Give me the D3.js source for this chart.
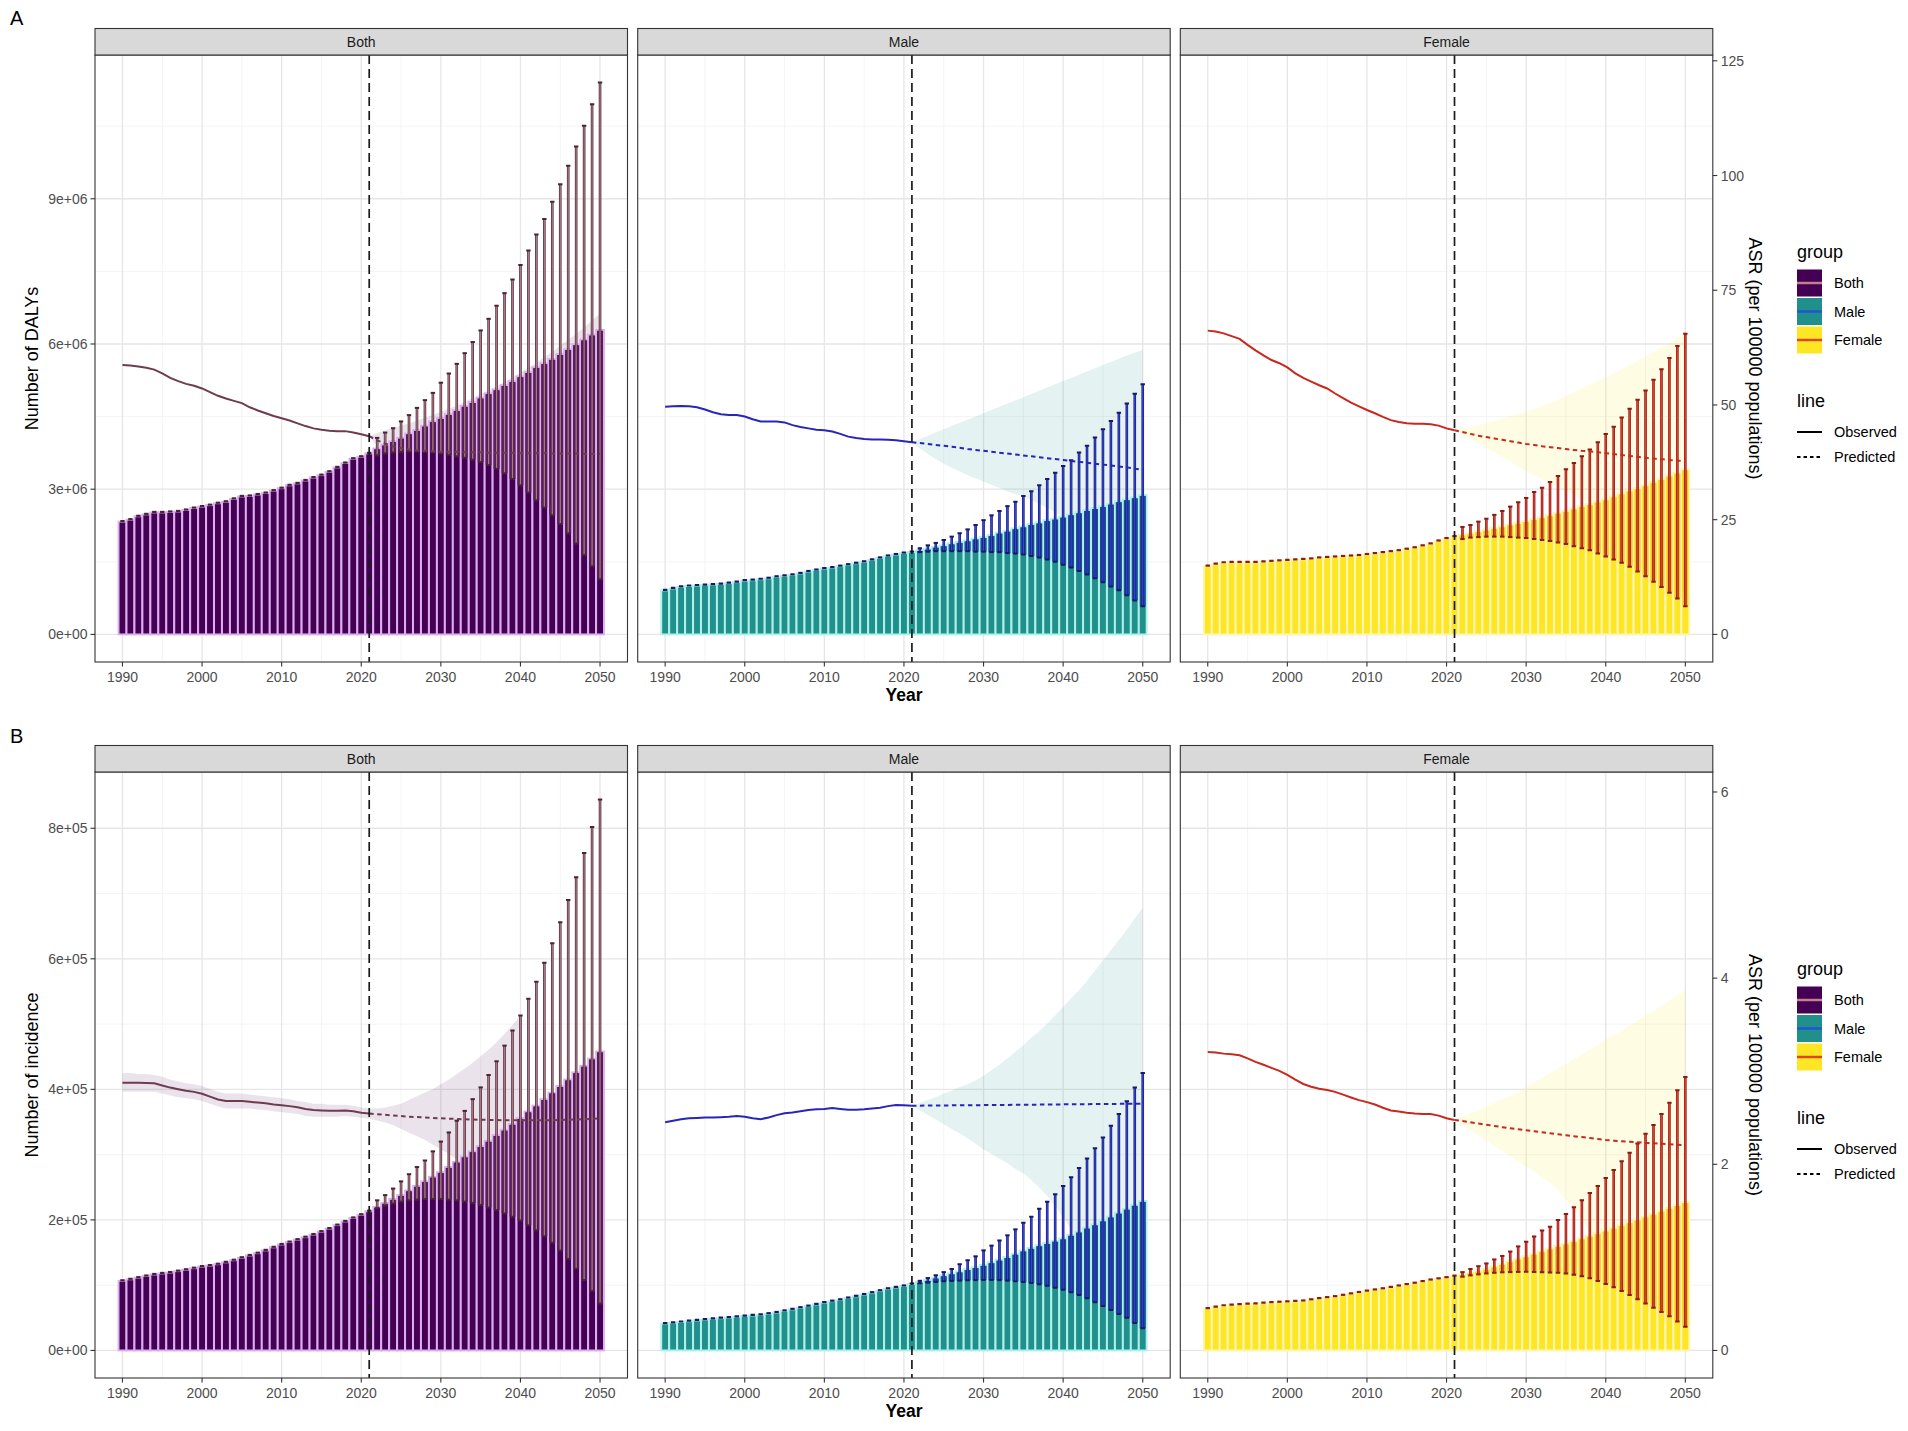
<!DOCTYPE html>
<html><head><meta charset="utf-8">
<script src="https://cdn.jsdelivr.net/npm/d3@7/dist/d3.min.js"></script>
<style>
body{margin:0;background:#fff;}
svg{display:block;font-family:"Liberation Sans",Arial,Helvetica,sans-serif;}
</style>
</head><body>
<svg id="chart" width="1908" height="1431"></svg>
<script>
// ---------------- DATA ----------------
const years = [1990,1991,1992,1993,1994,1995,1996,1997,1998,1999,2000,2001,2002,2003,2004,2005,2006,2007,2008,2009,2010,2011,2012,2013,2014,2015,2016,2017,2018,2019,2020,2021,2022,2023,2024,2025,2026,2027,2028,2029,2030,2031,2032,2033,2034,2035,2036,2037,2038,2039,2040,2041,2042,2043,2044,2045,2046,2047,2048,2049,2050];
const predYears = [2022,2023,2024,2025,2026,2027,2028,2029,2030,2031,2032,2033,2034,2035,2036,2037,2038,2039,2040,2041,2042,2043,2044,2045,2046,2047,2048,2049,2050];
const ribbonYears = [2021,2022,2023,2024,2025,2026,2027,2028,2029,2030,2031,2032,2033,2034,2035,2036,2037,2038,2039,2040,2041,2042,2043,2044,2045,2046,2047,2048,2049,2050];
const ribbonYearsIncBoth = [1990,1991,1992,1993,1994,1995,1996,1997,1998,1999,2000,2001,2002,2003,2004,2005,2006,2007,2008,2009,2010,2011,2012,2013,2014,2015,2016,2017,2018,2019,2020,2021,2022,2023,2024,2025,2026,2027,2028,2029,2030,2031,2032,2033,2034,2035,2036,2037,2038,2039,2040];
const splitYear = 2021;

// Panel A: DALYs (millions), ASR per 100000
const dalyBoth = [2.33,2.37,2.44,2.48,2.52,2.52,2.53,2.54,2.57,2.61,2.64,2.67,2.71,2.74,2.80,2.85,2.86,2.89,2.92,2.97,3.02,3.08,3.12,3.18,3.24,3.29,3.36,3.45,3.54,3.63,3.67,3.74,3.84,3.92,3.99,4.06,4.15,4.22,4.31,4.40,4.47,4.55,4.63,4.72,4.80,4.89,4.98,5.06,5.15,5.23,5.33,5.42,5.52,5.60,5.69,5.79,5.89,5.99,6.09,6.19,6.29];
const dalyBothHi = [4.06,4.17,4.26,4.40,4.53,4.68,4.84,4.99,5.20,5.39,5.59,5.81,6.04,6.28,6.52,6.79,7.05,7.33,7.63,7.93,8.26,8.58,8.94,9.30,9.68,10.08,10.51,10.95,11.40];
const dalyBothLo = [3.70,3.74,3.76,3.77,3.78,3.78,3.77,3.76,3.74,3.71,3.68,3.65,3.61,3.56,3.50,3.42,3.33,3.21,3.08,2.93,2.77,2.62,2.46,2.28,2.09,1.88,1.64,1.41,1.14];
const asrDalyBoth = [58.7,58.6,58.4,58.1,57.7,56.9,55.9,55.2,54.6,54.2,53.6,52.8,52.0,51.4,50.9,50.4,49.5,48.8,48.2,47.6,47.1,46.6,46.0,45.4,44.9,44.6,44.4,44.3,44.3,44.0,43.6,43.2,42.3,41.6,41.0,40.6,40.3,40.1,40.0,39.9,39.8,39.8,39.8,39.7,39.7,39.7,39.6,39.6,39.6,39.6,39.5,39.5,39.5,39.5,39.4,39.4,39.4,39.4,39.3,39.3,39.3];
const asrDalyBothHi = [43.2,43.9,44.5,45.0,45.5,46.0,46.6,47.2,47.8,48.5,49.2,49.9,50.7,51.5,52.4,53.2,54.1,55.0,56.0,57.0,58.1,59.2,60.4,61.6,62.9,64.2,65.5,66.9,68.4,70.0];
const asrDalyBothLo = [43.2,41.0,39.6,38.4,37.4,36.6,35.8,35.0,34.2,33.4,32.6,31.8,31.0,30.1,29.2,28.3,27.3,26.3,25.2,24.1,23.0,21.8,20.6,19.4,18.1,16.8,15.5,14.1,12.7,11.3];

const dalyMale = [0.91,0.95,0.98,1.00,1.01,1.02,1.03,1.04,1.06,1.08,1.11,1.12,1.14,1.16,1.19,1.21,1.23,1.26,1.30,1.33,1.36,1.38,1.41,1.44,1.47,1.50,1.54,1.58,1.62,1.65,1.68,1.70,1.74,1.77,1.81,1.84,1.88,1.91,1.94,1.98,2.01,2.05,2.10,2.14,2.19,2.23,2.28,2.31,2.36,2.39,2.43,2.48,2.52,2.57,2.61,2.65,2.70,2.75,2.79,2.83,2.88];
const dalyMaleHi = [1.78,1.84,1.89,1.95,2.02,2.09,2.17,2.26,2.36,2.46,2.55,2.65,2.74,2.86,2.96,3.08,3.21,3.34,3.48,3.60,3.76,3.90,4.07,4.24,4.41,4.58,4.77,4.97,5.17];
const dalyMaleLo = [1.70,1.71,1.72,1.72,1.72,1.72,1.72,1.71,1.71,1.70,1.70,1.68,1.67,1.65,1.62,1.59,1.55,1.50,1.44,1.38,1.31,1.24,1.16,1.08,0.99,0.91,0.81,0.70,0.58];
const asrDalyMale = [49.6,49.7,49.8,49.7,49.5,49.0,48.4,48.0,47.8,47.8,47.5,46.9,46.4,46.4,46.4,46.2,45.6,45.2,44.9,44.6,44.5,44.2,43.7,43.1,42.8,42.6,42.5,42.5,42.4,42.3,42.1,41.9,41.7,41.5,41.3,41.1,40.9,40.7,40.4,40.2,40.0,39.8,39.6,39.4,39.2,39.0,38.8,38.6,38.4,38.2,38.0,37.8,37.6,37.4,37.2,37.0,36.8,36.6,36.4,36.1,35.9];
const asrDalyMaleHi = [41.9,42.6,43.3,44.0,44.7,45.4,46.1,46.8,47.5,48.2,48.9,49.6,50.3,51.0,51.7,52.4,53.1,53.8,54.5,55.2,55.9,56.6,57.3,58.0,58.7,59.4,60.1,60.8,61.4,62.0];
const asrDalyMaleLo = [41.9,40.5,39.3,38.2,37.2,36.3,35.5,34.7,34.0,33.3,32.6,31.9,31.2,30.6,30.0,29.3,28.5,27.6,26.6,25.5,24.3,23.0,21.7,20.3,18.9,17.5,16.1,14.7,13.3,12.0];

const dalyFemale = [1.41,1.45,1.48,1.49,1.49,1.49,1.49,1.50,1.51,1.52,1.53,1.54,1.55,1.56,1.58,1.59,1.60,1.61,1.62,1.63,1.65,1.67,1.69,1.71,1.73,1.76,1.79,1.83,1.87,1.93,1.98,2.02,2.06,2.09,2.13,2.16,2.20,2.23,2.27,2.30,2.34,2.38,2.42,2.46,2.51,2.55,2.60,2.65,2.69,2.74,2.79,2.85,2.91,2.97,3.02,3.08,3.15,3.21,3.28,3.34,3.41];
const dalyFemaleHi = [2.22,2.26,2.33,2.39,2.47,2.55,2.64,2.73,2.82,2.94,3.03,3.15,3.27,3.41,3.54,3.68,3.82,3.97,4.14,4.29,4.48,4.66,4.85,5.04,5.26,5.48,5.71,5.96,6.21];
const dalyFemaleLo = [1.97,2.00,2.01,2.02,2.02,2.02,2.01,2.00,1.99,1.97,1.95,1.93,1.90,1.87,1.82,1.78,1.74,1.67,1.61,1.55,1.48,1.40,1.30,1.20,1.09,0.98,0.86,0.74,0.58];
const asrDalyFemale = [66.2,66.0,65.6,65.0,64.4,63.1,61.9,60.8,59.8,59.1,58.2,56.9,55.9,55.1,54.3,53.6,52.5,51.5,50.5,49.7,48.9,48.2,47.4,46.7,46.3,46.0,45.9,45.9,45.8,45.5,44.9,44.5,44.1,43.7,43.3,43.0,42.7,42.4,42.1,41.8,41.5,41.3,41.0,40.8,40.6,40.4,40.2,40.0,39.9,39.7,39.5,39.3,39.1,38.9,38.7,38.5,38.3,38.2,38.0,37.9,37.7];
const asrDalyFemaleHi = [44.5,44.8,45.2,45.6,46.0,46.5,47.0,47.5,48.0,48.5,49.1,49.8,50.5,51.2,52.0,52.8,53.6,54.4,55.2,56.0,56.9,57.8,58.7,59.6,60.5,61.5,62.5,63.5,64.5,65.5];
const asrDalyFemaleLo = [44.5,43.6,42.6,41.6,40.6,39.6,38.6,37.6,36.6,35.6,34.7,33.8,32.9,32.1,31.3,30.4,29.5,28.5,27.5,26.5,25.4,24.3,23.2,22.1,21.0,19.9,18.8,17.7,16.6,15.5];

// Panel B: incidence (units of 1e5), ASR per 100000
const incBoth = [1.067,1.09,1.115,1.14,1.164,1.18,1.194,1.215,1.236,1.26,1.285,1.30,1.321,1.35,1.382,1.42,1.455,1.49,1.533,1.58,1.624,1.66,1.697,1.735,1.776,1.82,1.867,1.92,1.976,2.03,2.079,2.133,2.20,2.26,2.32,2.38,2.45,2.52,2.59,2.66,2.73,2.81,2.89,2.97,3.05,3.13,3.21,3.30,3.38,3.47,3.56,3.66,3.75,3.85,3.95,4.05,4.15,4.26,4.36,4.47,4.58];
const incBothHi = [2.30,2.38,2.48,2.59,2.70,2.81,2.91,3.05,3.20,3.34,3.52,3.67,3.85,4.03,4.22,4.43,4.67,4.90,5.13,5.39,5.65,5.94,6.24,6.56,6.90,7.25,7.62,8.02,8.44];
const incBothLo = [2.18,2.22,2.25,2.28,2.30,2.31,2.32,2.32,2.32,2.31,2.30,2.28,2.26,2.23,2.19,2.15,2.10,2.05,1.99,1.92,1.84,1.75,1.65,1.53,1.40,1.25,1.08,0.91,0.72];
const asrIncBoth = [2.875,2.875,2.875,2.873,2.871,2.846,2.824,2.807,2.79,2.778,2.757,2.727,2.697,2.68,2.68,2.68,2.672,2.663,2.655,2.642,2.634,2.625,2.612,2.595,2.583,2.578,2.574,2.574,2.578,2.57,2.553,2.545,2.538,2.531,2.524,2.518,2.512,2.507,2.502,2.498,2.494,2.490,2.487,2.484,2.481,2.479,2.477,2.475,2.474,2.473,2.472,2.472,2.472,2.473,2.474,2.476,2.478,2.481,2.484,2.488,2.492];
const asrIncBothHi = [2.98,2.98,2.97,2.97,2.96,2.94,2.91,2.89,2.87,2.86,2.84,2.81,2.78,2.76,2.76,2.76,2.75,2.74,2.73,2.72,2.71,2.70,2.68,2.67,2.65,2.65,2.64,2.64,2.64,2.63,2.61,2.60,2.60,2.61,2.63,2.65,2.69,2.73,2.77,2.81,2.86,2.91,2.97,3.03,3.09,3.16,3.23,3.31,3.40,3.50,3.60];
const asrIncBothLo = [2.78,2.78,2.78,2.78,2.78,2.76,2.74,2.72,2.71,2.70,2.68,2.65,2.62,2.60,2.60,2.60,2.60,2.59,2.58,2.57,2.56,2.55,2.54,2.52,2.51,2.51,2.51,2.51,2.52,2.51,2.50,2.49,2.47,2.45,2.42,2.38,2.34,2.30,2.26,2.21,2.16,2.11,2.05,1.99,1.93,1.86,1.79,1.71,1.63,1.54,1.45];

const incMale = [0.412,0.424,0.436,0.448,0.461,0.473,0.485,0.494,0.503,0.515,0.527,0.536,0.545,0.563,0.582,0.606,0.630,0.655,0.679,0.706,0.733,0.755,0.776,0.803,0.830,0.857,0.885,0.915,0.945,0.966,0.988,1.018,1.05,1.08,1.115,1.15,1.18,1.21,1.245,1.275,1.31,1.35,1.39,1.43,1.48,1.53,1.57,1.61,1.645,1.68,1.715,1.77,1.82,1.88,1.93,1.99,2.05,2.11,2.17,2.23,2.29];
const incMaleHi = [1.067,1.109,1.152,1.20,1.248,1.321,1.382,1.442,1.533,1.606,1.685,1.764,1.855,1.958,2.048,2.17,2.279,2.394,2.521,2.655,2.794,2.939,3.097,3.261,3.442,3.624,3.818,4.03,4.249];
const incMaleLo = [1.03,1.04,1.05,1.06,1.065,1.07,1.075,1.078,1.08,1.08,1.078,1.07,1.06,1.05,1.035,1.015,0.99,0.96,0.93,0.89,0.85,0.80,0.74,0.68,0.62,0.56,0.50,0.42,0.34];
const asrIncMale = [2.451,2.468,2.485,2.494,2.498,2.502,2.502,2.506,2.511,2.519,2.511,2.494,2.485,2.502,2.528,2.549,2.557,2.57,2.583,2.591,2.595,2.604,2.595,2.587,2.587,2.591,2.6,2.608,2.625,2.638,2.634,2.629,2.630,2.631,2.632,2.632,2.633,2.634,2.635,2.635,2.636,2.637,2.638,2.638,2.639,2.640,2.641,2.641,2.642,2.643,2.644,2.644,2.645,2.646,2.647,2.647,2.648,2.649,2.650,2.650,2.651];
const asrIncMaleHi = [2.63,2.66,2.69,2.72,2.76,2.79,2.83,2.86,2.90,2.95,3.01,3.07,3.14,3.21,3.28,3.36,3.43,3.51,3.60,3.69,3.78,3.87,3.97,4.08,4.19,4.30,4.41,4.52,4.64,4.76];
const asrIncMaleLo = [2.63,2.58,2.53,2.48,2.43,2.38,2.33,2.28,2.22,2.16,2.11,2.06,2.01,1.95,1.90,1.83,1.75,1.66,1.55,1.43,1.30,1.17,1.04,0.92,0.80,0.69,0.58,0.48,0.39,0.30];

const incFemale = [0.642,0.665,0.685,0.695,0.703,0.709,0.715,0.724,0.733,0.739,0.745,0.752,0.758,0.776,0.794,0.809,0.824,0.845,0.867,0.888,0.909,0.927,0.945,0.966,0.988,1.009,1.03,1.055,1.079,1.097,1.115,1.139,1.166,1.193,1.22,1.248,1.287,1.326,1.365,1.404,1.442,1.48,1.52,1.56,1.60,1.636,1.676,1.716,1.756,1.796,1.836,1.878,1.92,1.962,2.005,2.048,2.093,2.138,2.183,2.228,2.273];
const incFemaleHi = [1.2,1.248,1.291,1.333,1.394,1.448,1.515,1.594,1.667,1.745,1.836,1.897,2.0,2.091,2.194,2.303,2.412,2.521,2.642,2.764,2.897,3.03,3.17,3.321,3.455,3.624,3.794,3.988,4.188];
const incFemaleLo = [1.13,1.15,1.165,1.18,1.19,1.197,1.20,1.203,1.205,1.203,1.20,1.195,1.19,1.18,1.16,1.135,1.105,1.065,1.02,0.97,0.91,0.85,0.785,0.72,0.655,0.59,0.525,0.445,0.365];
const asrIncFemale = [3.206,3.202,3.189,3.181,3.172,3.138,3.10,3.07,3.036,3.003,2.96,2.909,2.863,2.833,2.812,2.799,2.778,2.748,2.718,2.689,2.668,2.642,2.608,2.578,2.566,2.553,2.545,2.54,2.54,2.523,2.494,2.477,2.464,2.451,2.438,2.425,2.412,2.399,2.387,2.376,2.366,2.355,2.344,2.333,2.322,2.312,2.302,2.292,2.282,2.271,2.26,2.254,2.248,2.242,2.236,2.23,2.225,2.22,2.215,2.21,2.205];
const asrIncFemaleHi = [2.48,2.51,2.55,2.58,2.62,2.66,2.70,2.74,2.78,2.83,2.88,2.93,2.98,3.03,3.08,3.13,3.18,3.23,3.28,3.34,3.39,3.44,3.49,3.54,3.60,3.65,3.70,3.76,3.81,3.87];
const asrIncFemaleLo = [2.48,2.42,2.36,2.31,2.25,2.20,2.14,2.09,2.03,1.98,1.92,1.86,1.80,1.72,1.62,1.51,1.40,1.29,1.18,1.07,0.96,0.86,0.77,0.68,0.60,0.53,0.46,0.40,0.35,0.30];

// Ticks
const xTicks = [1990,2000,2010,2020,2030,2040,2050];
const xMinorTicks = [1995,2005,2015,2025,2035,2045];
const dalyTicks = [0,3,6,9];
const dalyTickLabels = ["0e+00","3e+06","6e+06","9e+06"];
const dalyMinorTicks = [1.5,4.5,7.5,10.5];
const incTicks = [0,2,4,6,8];
const incTickLabels = ["0e+00","2e+05","4e+05","6e+05","8e+05"];
const incMinorTicks = [1,3,5,7];
const asrTicksA = [0,25,50,75,100,125];
const asrTicksB = [0,2,4,6];
const groups = ["Both","Male","Female"];
const lineTypes = ["Observed","Predicted"];

// ---------------- STYLE / LAYOUT ----------------
const fills = ["#440154","#21908C","#FDE725"];
const gapColors = ["#dcaef0","#aef0ea","#fff5b0"];
const tintColors = ["#5a1d63","#1d4c9c","#f4c71f"];
const lineColors = ["#6e3b50","#2626bb","#c8281e"];
const errColors = ["#b07582","#3344e0","#e33a2c"];
const capColors = ["#472634","#191966","#8a1b15"];
const keyLineColors = ["#c47f8e","#1f55d6","#e0451f"];
const ribbonOpacity = [0.11, 0.12, 0.12];
const panelLefts = [95, 637.7, 1180.3];
const panelW = 532.5, stripH = 26.5;
const xDomain = [1986.55, 2053.45];

const rows = [
  {label:"A", labelY:25, top:55, bot:662, yDomain:[-0.57,11.97], factor:0.0948,
   yTicks:dalyTicks, yTickLabels:dalyTickLabels, yMinor:dalyMinorTicks, asrTicks:asrTicksA,
   yTitle:"Number of DALYs", ribbonYears:[ribbonYears,ribbonYears,ribbonYears],
   series:[
     {count:dalyBoth,lo:dalyBothLo,hi:dalyBothHi,asr:asrDalyBoth,rLo:asrDalyBothLo,rHi:asrDalyBothHi},
     {count:dalyMale,lo:dalyMaleLo,hi:dalyMaleHi,asr:asrDalyMale,rLo:asrDalyMaleLo,rHi:asrDalyMaleHi},
     {count:dalyFemale,lo:dalyFemaleLo,hi:dalyFemaleHi,asr:asrDalyFemale,rLo:asrDalyFemaleLo,rHi:asrDalyFemaleHi}]},
  {label:"B", labelY:743, top:772, bot:1378, yDomain:[-0.422,8.862], factor:1.426,
   yTicks:incTicks, yTickLabels:incTickLabels, yMinor:incMinorTicks, asrTicks:asrTicksB,
   yTitle:"Number of incidence", ribbonYears:[ribbonYearsIncBoth,ribbonYears,ribbonYears],
   series:[
     {count:incBoth,lo:incBothLo,hi:incBothHi,asr:asrIncBoth,rLo:asrIncBothLo,rHi:asrIncBothHi},
     {count:incMale,lo:incMaleLo,hi:incMaleHi,asr:asrIncMale,rLo:asrIncMaleLo,rHi:asrIncMaleHi},
     {count:incFemale,lo:incFemaleLo,hi:incFemaleHi,asr:asrIncFemale,rLo:asrIncFemaleLo,rHi:asrIncFemaleHi}]}
];

const svg = d3.select("#chart");
svg.append("rect").attr("width",1908).attr("height",1431).attr("fill","#fff");
const defs = svg.append("defs");

rows.forEach((row, ri) => {
  const y = d3.scaleLinear().domain(row.yDomain).range([row.bot, row.top]);
  const asrY = d3.scaleLinear().domain([row.yDomain[0]/row.factor, row.yDomain[1]/row.factor]).range([row.bot, row.top]);
  const stripTop = row.top - stripH;

  svg.append("text").attr("x",10).attr("y",row.labelY).text(row.label)
    .attr("font-size",20).attr("fill","#000");

  groups.forEach((grp, gi) => {
    const left = panelLefts[gi];
    const x = d3.scaleLinear().domain(xDomain).range([left, left+panelW]);
    const s = row.series[gi];
    const band = x(1991) - x(1990);
    const bw = band*0.98;
    const g = svg.append("g");
    const clipId = "clip"+ri+gi;
    defs.append("clipPath").attr("id",clipId).append("rect")
      .attr("x",left).attr("y",row.top).attr("width",panelW).attr("height",row.bot-row.top);

    g.append("rect").attr("x",left).attr("y",row.top).attr("width",panelW).attr("height",row.bot-row.top).attr("fill","#fff");
    const grid = g.append("g");
    row.yMinor.forEach(v => grid.append("line").attr("x1",left).attr("x2",left+panelW).attr("y1",y(v)).attr("y2",y(v)).attr("stroke","#f1f1f1").attr("stroke-width",0.8));
    xMinorTicks.forEach(v => grid.append("line").attr("y1",row.top).attr("y2",row.bot).attr("x1",x(v)).attr("x2",x(v)).attr("stroke","#f1f1f1").attr("stroke-width",0.8));
    row.yTicks.forEach(v => grid.append("line").attr("x1",left).attr("x2",left+panelW).attr("y1",y(v)).attr("y2",y(v)).attr("stroke","#e6e6e6").attr("stroke-width",1.3));
    xTicks.forEach(v => grid.append("line").attr("y1",row.top).attr("y2",row.bot).attr("x1",x(v)).attr("x2",x(v)).attr("stroke","#e6e6e6").attr("stroke-width",1.3));

    const plot = g.append("g").attr("clip-path","url(#"+clipId+")");

    // ribbon
    const rYears = row.ribbonYears[gi];
    const ribbonData = rYears.map((yr,i)=>({yr, lo:s.rLo[i], hi:s.rHi[i]}));
    plot.append("path").datum(ribbonData)
      .attr("d", d3.area().x(d=>x(d.yr)).y0(d=>asrY(d.lo)).y1(d=>asrY(d.hi)))
      .attr("fill", fills[gi]).attr("fill-opacity", ribbonOpacity[gi]).attr("stroke","none");

    // bars
    const barData = years.map((yr,i)=>({yr, v:s.count[i]}));
    plot.selectAll("rect.bar").data(barData).enter().append("rect").attr("class","bar")
      .attr("x", d=>x(d.yr)-bw/2).attr("width", bw)
      .attr("y", d=>y(d.v)).attr("height", d=>y(0)-y(d.v))
      .attr("fill", fills[gi]).attr("stroke", gapColors[gi]).attr("stroke-width",1.9);

    // predicted tint between lower bound and mean
    const predData = predYears.map((yr,i)=>({yr, lo:s.lo[i], hi:s.hi[i], v:s.count[years.indexOf(yr)]}));
    plot.selectAll("rect.tint").data(predData).enter().append("rect").attr("class","tint")
      .attr("x", d=>x(d.yr)-bw/2+0.95).attr("width", bw-1.9)
      .attr("y", d=>y(d.v)+0.95).attr("height", d=>Math.max(0, y(d.lo)-y(d.v)-0.95))
      .attr("fill", tintColors[gi]);

    // error bars
    const capW = band*0.55;
    const eb = plot.append("g");
    predData.forEach(d => {
      eb.append("line").attr("x1",x(d.yr)).attr("x2",x(d.yr)).attr("y1",y(d.lo)).attr("y2",y(d.hi))
        .attr("stroke",capColors[gi]).attr("stroke-width",2.6);
      eb.append("line").attr("x1",x(d.yr)).attr("x2",x(d.yr)).attr("y1",y(d.lo)).attr("y2",y(d.hi))
        .attr("stroke",errColors[gi]).attr("stroke-width",1.3);
      [d.lo,d.hi].forEach(v => eb.append("line").attr("x1",x(d.yr)-capW/2).attr("x2",x(d.yr)+capW/2)
        .attr("y1",y(v)).attr("y2",y(v)).attr("stroke",capColors[gi]).attr("stroke-width",2));
    });
    barData.filter(d=>d.yr<=splitYear).forEach(d => {
      eb.append("line").attr("x1",x(d.yr)-capW/2).attr("x2",x(d.yr)+capW/2)
        .attr("y1",y(d.v)-0.5).attr("y2",y(d.v)-0.5).attr("stroke",capColors[gi]).attr("stroke-width",2.2);
    });

    // ASR lines
    const asrData = years.map((yr,i)=>({yr, v:s.asr[i]}));
    const line = d3.line().x(d=>x(d.yr)).y(d=>asrY(d.v));
    plot.append("path").datum(asrData.filter(d=>d.yr<=splitYear)).attr("d",line)
      .attr("fill","none").attr("stroke",lineColors[gi]).attr("stroke-width",2);
    plot.append("path").datum(asrData.filter(d=>d.yr>=splitYear)).attr("d",line)
      .attr("fill","none").attr("stroke",lineColors[gi]).attr("stroke-width",2).attr("stroke-dasharray","4.5,3.5");

    // vertical dashed line
    plot.append("line").attr("x1",x(splitYear)).attr("x2",x(splitYear)).attr("y1",row.top).attr("y2",row.bot)
      .attr("stroke","#1a1a1a").attr("stroke-width",1.7).attr("stroke-dasharray","9,5");

    g.append("rect").attr("x",left).attr("y",row.top).attr("width",panelW).attr("height",row.bot-row.top)
      .attr("fill","none").attr("stroke","#333").attr("stroke-width",1.1);
    g.append("rect").attr("x",left).attr("y",stripTop).attr("width",panelW).attr("height",stripH)
      .attr("fill","#d9d9d9").attr("stroke","#333").attr("stroke-width",1.1);
    g.append("text").attr("x",left+panelW/2).attr("y",stripTop+stripH/2).attr("text-anchor","middle")
      .attr("dominant-baseline","central").attr("font-size",14).attr("fill","#1a1a1a").text(grp);

    const xa = g.append("g");
    xTicks.forEach(v => {
      xa.append("line").attr("x1",x(v)).attr("x2",x(v)).attr("y1",row.bot).attr("y2",row.bot+4.5).attr("stroke","#333").attr("stroke-width",1.1);
      xa.append("text").attr("x",x(v)).attr("y",row.bot+14.5).attr("text-anchor","middle").attr("dominant-baseline","central")
        .attr("font-size",14).attr("fill","#4d4d4d").text(v);
    });
    if (gi===1) {
      g.append("text").attr("x",left+panelW/2).attr("y",row.bot+33).attr("text-anchor","middle").attr("dominant-baseline","central")
        .attr("font-size",17.5).attr("font-weight","bold").attr("fill","#000").text("Year");
    }
    if (gi===0) {
      row.yTicks.forEach((v,i) => {
        g.append("line").attr("x1",left-4.5).attr("x2",left).attr("y1",y(v)).attr("y2",y(v)).attr("stroke","#333").attr("stroke-width",1.1);
        g.append("text").attr("x",left-7.5).attr("y",y(v)).attr("text-anchor","end").attr("dominant-baseline","central")
          .attr("font-size",14).attr("fill","#4d4d4d").text(row.yTickLabels[i]);
      });
      g.append("text").attr("transform","translate(31.5,"+((row.top+row.bot)/2)+") rotate(-90)")
        .attr("text-anchor","middle").attr("dominant-baseline","central").attr("font-size",18).attr("fill","#000").text(row.yTitle);
    }
    if (gi===2) {
      const r = left+panelW;
      row.asrTicks.forEach(v => {
        g.append("line").attr("x1",r).attr("x2",r+4.5).attr("y1",asrY(v)).attr("y2",asrY(v)).attr("stroke","#333").attr("stroke-width",1.1);
        g.append("text").attr("x",r+8).attr("y",asrY(v)).attr("text-anchor","start").attr("dominant-baseline","central")
          .attr("font-size",14).attr("fill","#4d4d4d").text(v);
      });
      g.append("text").attr("transform","translate(1755,"+((row.top+row.bot)/2)+") rotate(90)")
        .attr("text-anchor","middle").attr("dominant-baseline","central").attr("font-size",18).attr("fill","#000")
        .text("ASR (per 100000 populations)");
    }
  });

  // legend
  const off = row.top - 55;
  const lg = svg.append("g").attr("transform","translate(0,"+off+")");
  lg.append("text").attr("x",1797).attr("y",252).attr("dominant-baseline","central").attr("font-size",18).attr("fill","#000").text("group");
  groups.forEach((grp,gi) => {
    const ky = 269.5 + gi*28.5;
    lg.append("rect").attr("x",1797).attr("y",ky).attr("width",25).attr("height",27).attr("fill",fills[gi]);
    lg.append("line").attr("x1",1797).attr("x2",1822).attr("y1",ky+13.5).attr("y2",ky+13.5).attr("stroke",keyLineColors[gi]).attr("stroke-width",2.5);
    lg.append("text").attr("x",1834).attr("y",ky+13.5).attr("dominant-baseline","central").attr("font-size",14.5).attr("fill","#000").text(grp);
  });
  lg.append("text").attr("x",1797).attr("y",401).attr("dominant-baseline","central").attr("font-size",18).attr("fill","#000").text("line");
  lineTypes.forEach((lt,li) => {
    const ly = 432 + li*25;
    lg.append("line").attr("x1",1797).attr("x2",1822).attr("y1",ly).attr("y2",ly).attr("stroke","#000").attr("stroke-width",2)
      .attr("stroke-dasharray", li===1 ? "3.5,3" : null);
    lg.append("text").attr("x",1834).attr("y",ly).attr("dominant-baseline","central").attr("font-size",14.5).attr("fill","#000").text(lt);
  });
});
</script>
</body></html>
